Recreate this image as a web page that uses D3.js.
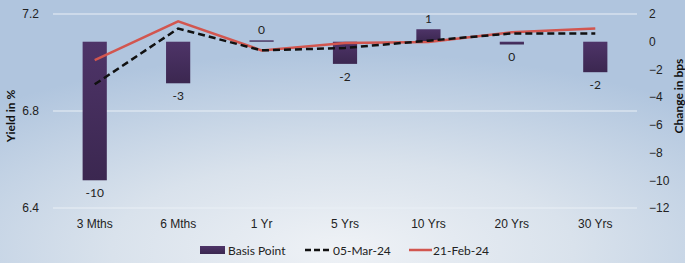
<!DOCTYPE html>
<html>
<head>
<meta charset="utf-8">
<script src="https://cdn.jsdelivr.net/npm/d3@7"></script>
<style>
  body { margin: 0; }
  svg { display: block; font-family: "Lato", "Liberation Sans", sans-serif; }
</style>
</head>
<body>
<div id="chart"></div>
<script>
// data
var tenors = ["3 Mths", "6 Mths", "1 Yr", "5 Yrs", "10 Yrs", "20 Yrs", "30 Yrs"];
var basisPoint = [-10, -3, 0.1, -1.6, 0.9, -0.2, -2.2];
var mar05 = [6.91, 7.14, 7.05, 7.06, 7.09, 7.12, 7.12];
var feb21 = [7.01, 7.17, 7.05, 7.08, 7.085, 7.125, 7.14];
var yieldTicks = [6.4, 6.8, 7.2];
var bpsTicks = [2, 0, -2, -4, -6, -8, -10, -12];

var W = 685, H = 263;
var margin = { top: 14, right: 48, bottom: 55, left: 53 },
  width = W - margin.left - margin.right,
  height = H - margin.top - margin.bottom;

var svg = d3.select("#chart")
  .append("svg")
  .attr("width", W)
  .attr("height", H);

// background gradient
var defs = svg.append("defs");
var bg = defs.append("radialGradient")
  .attr("id", "bg")
  .attr("cx", "50%").attr("cy", "95%").attr("r", "75%");
bg.append("stop").attr("offset", "0%").attr("stop-color", "#eff2f6");
bg.append("stop").attr("offset", "45%").attr("stop-color", "#d9e2ec");
bg.append("stop").attr("offset", "100%").attr("stop-color", "#b0c5de");

var barGrad = defs.append("linearGradient")
  .attr("id", "barGrad").attr("x1", 0).attr("x2", 0).attr("y1", 0).attr("y2", 1);
barGrad.append("stop").attr("offset", "0%").attr("stop-color", "#4e3468");
barGrad.append("stop").attr("offset", "100%").attr("stop-color", "#3b2750");

svg.append("rect").attr("width", W).attr("height", H).attr("fill", "url(#bg)");

var g = svg.append("g")
  .attr("transform", "translate(" + margin.left + "," + margin.top + ")");

var x = d3.scaleBand().domain(tenors).range([0, width]).paddingInner(0.71).paddingOuter(0.355);
var yL = d3.scaleLinear().domain([6.4, 7.2]).range([height, 0]);
var yR = d3.scaleLinear().domain([-12, 2]).range([height, 0]);

// gridlines
g.selectAll(".grid")
  .data(yieldTicks).enter()
  .append("line")
  .attr("x1", 0).attr("x2", width)
  .attr("y1", function (d) { return yL(d); })
  .attr("y2", function (d) { return yL(d); })
  .style("stroke", "#e9eff6")
  .style("stroke-width", 1.2);

// left axis
var left = g.append("g")
  .call(d3.axisLeft(yL).tickValues(yieldTicks).tickFormat(d3.format(".1f")).tickSize(0).tickPadding(14));
left.select(".domain").remove();
left.selectAll("text").style("font-size", "12px").style("fill", "#222");

// right axis
var right = g.append("g")
  .attr("transform", "translate(" + width + ",0)")
  .call(d3.axisRight(yR).tickValues(bpsTicks).tickSize(0).tickPadding(12));
right.select(".domain").remove();
right.selectAll("text").style("font-size", "12px").style("fill", "#222");

// x axis labels
var bottom = g.append("g")
  .attr("transform", "translate(0," + height + ")")
  .call(d3.axisBottom(x).tickSize(0).tickPadding(11));
bottom.select(".domain").remove();
bottom.selectAll("text").style("font-size", "12px").style("fill", "#222");

// axis titles
svg.append("text")
  .attr("transform", "translate(15,116) rotate(-90)")
  .attr("text-anchor", "middle")
  .style("font-size", "12px").style("font-weight", "bold").style("fill", "#111")
  .text("Yield in %");
svg.append("text")
  .attr("transform", "translate(683,96) rotate(-90)")
  .attr("text-anchor", "middle")
  .style("font-size", "12px").style("font-weight", "bold").style("fill", "#111")
  .text("Change in bps");

// bars
g.selectAll(".bar")
  .data(basisPoint).enter()
  .append("rect")
  .attr("x", function (d, i) { return x(tenors[i]); })
  .attr("width", x.bandwidth())
  .attr("y", function (d) { return yR(Math.max(0, d)); })
  .attr("height", function (d) { return Math.max(1, Math.abs(yR(d) - yR(0))); })
  .attr("fill", "url(#barGrad)");

// bar labels
g.selectAll(".blabel")
  .data(basisPoint).enter()
  .append("text")
  .attr("x", function (d, i) { return x(tenors[i]) + x.bandwidth() / 2; })
  .attr("y", function (d) { return d >= 0 ? yR(d) - 6 : yR(d) + 17; })
  .attr("text-anchor", "middle")
  .style("font-size", "12px").style("fill", "#222")
  .text(function (d) { return Math.round(d) === 0 ? "0" : Math.round(d); });

var line = d3.line()
  .x(function (d, i) { return x(tenors[i]) + x.bandwidth() / 2; })
  .y(function (d) { return yL(d); });

g.append("path")
  .datum(feb21)
  .attr("d", line)
  .style("fill", "none")
  .style("stroke", "#d2564f")
  .style("stroke-width", 2.5);

g.append("path")
  .datum(mar05)
  .attr("d", line)
  .style("fill", "none")
  .style("stroke", "#111")
  .style("stroke-width", 2.5)
  .style("stroke-dasharray", "7,4");

// legend
var lg = svg.append("g").attr("transform", "translate(0,250)");
lg.append("rect").attr("x", 200).attr("y", -4).attr("width", 25).attr("height", 8).attr("fill", "url(#barGrad)");
lg.append("text").attr("x", 228).attr("y", 4.5).style("font-size", "12px").style("fill", "#222").text("Basis Point");
lg.append("line").attr("x1", 305).attr("x2", 332).attr("y1", 0).attr("y2", 0)
  .style("stroke", "#111").style("stroke-width", 2.5).style("stroke-dasharray", "6,3");
lg.append("text").attr("x", 333).attr("y", 4.5).style("font-size", "12px").style("fill", "#222").text("05-Mar-24");
lg.append("line").attr("x1", 409).attr("x2", 432).attr("y1", 0).attr("y2", 0)
  .style("stroke", "#d2564f").style("stroke-width", 2.5);
lg.append("text").attr("x", 433).attr("y", 4.5).style("font-size", "12px").style("fill", "#222").text("21-Feb-24");
</script>
</body>
</html>
